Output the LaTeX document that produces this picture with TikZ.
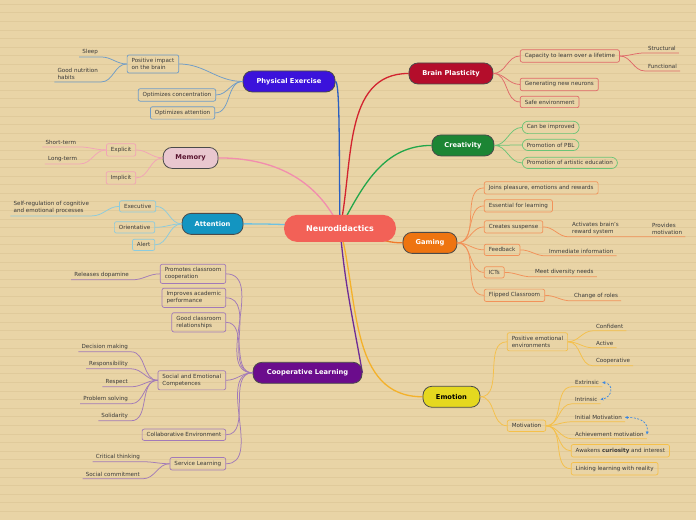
\documentclass[tikz,border=0pt]{standalone}
\usepackage{fontspec}
\setmainfont{DejaVu Sans}
\usetikzlibrary{arrows.meta}
\definecolor{paper}{HTML}{E9D4A6}
\definecolor{ruling}{HTML}{E0CA9B}
\definecolor{ink}{HTML}{3A3A3A}
\definecolor{edge}{HTML}{4A4A4A}
\definecolor{hubfill}{HTML}{F26157}
\definecolor{pefill}{HTML}{3B12DB}
\definecolor{bpfill}{HTML}{B40D2B}
\definecolor{crfill}{HTML}{1C8534}
\definecolor{gafill}{HTML}{EE7410}
\definecolor{emfill}{HTML}{E5D81F}
\definecolor{clfill}{HTML}{6B0C8C}
\definecolor{atfill}{HTML}{1395C1}
\definecolor{mmfill}{HTML}{E9C7CF}
\definecolor{memtext}{HTML}{5A1530}
\definecolor{pecol}{HTML}{6F9CC8}
\definecolor{bpcol}{HTML}{E06A6A}
\definecolor{crcol}{HTML}{6CC477}
\definecolor{gacol}{HTML}{F2925A}
\definecolor{emcol}{HTML}{F5C04A}
\definecolor{clcol}{HTML}{A27AB8}
\definecolor{atcol}{HTML}{8CCBDD}
\definecolor{mmcol}{HTML}{F2A3B8}
\definecolor{petrunk}{HTML}{2A5FC0}
\definecolor{bptrunk}{HTML}{D2232F}
\definecolor{crtrunk}{HTML}{22A64A}
\definecolor{gatrunk}{HTML}{F07A2A}
\definecolor{emtrunk}{HTML}{F4B12A}
\definecolor{cltrunk}{HTML}{6E2C96}
\definecolor{attrunk}{HTML}{6EC2E2}
\definecolor{mmtrunk}{HTML}{F28DAE}
\definecolor{relblue}{HTML}{3B87E0}
\pgfdeclarelayer{back}
\pgfsetlayers{back,main}
\tikzset{
  hub/.style={fill=hubfill, rounded corners=13pt, minimum width=112pt, minimum height=27pt, text=white, font=\bfseries\fontsize{8}{10}\selectfont},
  topic/.style={fill=#1, draw=edge, line width=0.8pt, rounded corners=9pt, minimum height=21pt, text=white, font=\bfseries\fontsize{6.7}{8}\selectfont},
  sub/.style={draw=#1, line width=0.7pt, rounded corners=2pt, inner xsep=4.5pt, inner ysep=3.5pt, align=left, text=ink, font=\fontsize{5.6}{6.8}\selectfont},
  leaf/.style={inner xsep=3pt, inner ysep=2pt, align=left, text=ink, font=\fontsize{5.6}{6.8}\selectfont},
  link/.style={draw=#1, line width=0.75pt},
  trunk/.style={draw=#1, line width=1.3pt},
  rel/.style={draw=relblue, line width=0.7pt, dash pattern=on 2pt off 1.5pt, {Stealth[length=3pt,width=3pt]}-{Stealth[length=3pt,width=3pt]}}
}
\begin{document}
\begin{tikzpicture}[>=Stealth, x=1pt, y=1pt]
\begin{pgfonlayer}{back}
\fill[paper] (0,0) rectangle (696,-520);
\foreach \k in {0,...,60} \draw[ruling, line width=0.4pt] (0,-4-8.6*\k) -- (696,-4-8.6*\k);
\end{pgfonlayer}
\useasboundingbox (0,0) rectangle (696,-520);

\node[hub] (nd) at (340,-228.5) {Neurodidactics};
\node[topic=pefill, minimum width=92pt] (pe) at (289,-81.5) {Physical Exercise};
\node[topic=bpfill, minimum width=84pt] (bp) at (451,-73.5) {Brain Plasticity};
\node[topic=crfill, minimum width=62pt] (cre) at (463,-145.5) {Creativity};
\node[topic=gafill, minimum width=54pt] (gam) at (430,-243) {Gaming};
\node[topic=emfill, minimum width=57pt, text=black] (emo) at (451.5,-397) {Emotion};
\node[topic=clfill, minimum width=109pt] (cl) at (307.5,-373) {Cooperative Learning};
\node[topic=atfill, minimum width=61pt] (att) at (212.5,-224) {Attention};
\node[topic=mmfill, minimum width=55pt, text=memtext] (mem) at (190.5,-158) {Memory};

\node[sub=pecol, anchor=east] (pe1) at (179,-64) {Positive impact\\on the brain};
\node[sub=pecol, anchor=east] (pe2) at (216,-95) {Optimizes concentration};
\node[sub=pecol, anchor=east] (pe3) at (215,-113) {Optimizes attention};
\node[leaf, anchor=south east] (sleep) at (101,-57) {Sleep};
\node[leaf, anchor=south east] (food) at (101,-82) {Good nutrition\\habits};

\node[sub=bpcol, anchor=west] (bp1) at (520,-56) {Capacity to learn over a lifetime};
\node[sub=bpcol, anchor=west] (bp2) at (520,-84.5) {Generating new neurons};
\node[sub=bpcol, anchor=west] (bp3) at (520,-102) {Safe environment};
\node[leaf, anchor=south west] (struct) at (645,-53) {Structural};
\node[leaf, anchor=south west] (funct) at (645,-71) {Functional};

\node[sub=crcol, rounded corners=6pt, anchor=west] (cr1) at (522,-127.5) {Can be improved};
\node[sub=crcol, rounded corners=6pt, anchor=west] (cr2) at (522,-145) {Promotion of PBL};
\node[sub=crcol, rounded corners=6pt, anchor=west] (cr3) at (522,-163) {Promotion of artistic education};

\node[sub=gacol, anchor=west] (g1) at (484,-188) {Joins pleasure, emotions and rewards};
\node[sub=gacol, anchor=west] (g2) at (484,-206) {Essential for learning};
\node[sub=gacol, anchor=west] (g3) at (484,-227) {Creates suspense};
\node[sub=gacol, anchor=west] (g4) at (484,-250) {Feedback};
\node[sub=gacol, anchor=west] (g5) at (484,-272.5) {ICTs};
\node[sub=gacol, anchor=west] (g6) at (484,-295.5) {Flipped Classroom};
\node[leaf, anchor=south west] (reward) at (569,-237) {Activates brain's\\reward system};
\node[leaf, anchor=south west] (drive) at (649,-237) {Provides\\motivation};
\node[leaf, anchor=south west] (instant) at (546,-256) {Immediate information};
\node[leaf, anchor=south west] (divers) at (532,-277) {Meet diversity needs};
\node[leaf, anchor=south west] (roles) at (571,-301) {Change of roles};

\node[sub=mmcol, anchor=east] (mem1) at (136,-150) {Explicit};
\node[sub=mmcol, anchor=east] (mem2) at (136,-178) {Implicit};
\node[leaf, anchor=south east] (short) at (79,-147) {Short-term};
\node[leaf, anchor=south east] (long) at (80,-164) {Long-term};

\node[sub=atcol, anchor=east] (at1) at (156,-206.5) {Executive};
\node[sub=atcol, anchor=east] (at2) at (155,-227.5) {Orientative};
\node[sub=atcol, anchor=east] (at3) at (155,-245) {Alert};
\node[leaf, anchor=south east] (selfreg) at (92,-216) {Self-regulation of cognitive\\and emotional processes};

\node[sub=clcol, anchor=east] (c1) at (226,-274) {Promotes classroom\\cooperation};
\node[sub=clcol, anchor=east] (c2) at (226,-298) {Improves academic\\performance};
\node[sub=clcol, anchor=east] (c3) at (226,-322.5) {Good classroom\\relationships};
\node[sub=clcol, anchor=east] (c4) at (226,-380.5) {Social and Emotional\\Competences};
\node[sub=clcol, anchor=east] (c5) at (226,-435) {Collaborative Environment};
\node[sub=clcol, anchor=east] (c6) at (226,-464) {Service Learning};
\node[leaf, anchor=south east] (dopa) at (132,-280) {Releases dopamine};
\node[leaf, anchor=south east] (decide) at (131,-352) {Decision making};
\node[leaf, anchor=south east] (resp) at (131,-369) {Responsibility};
\node[leaf, anchor=south east] (respect) at (131,-387) {Respect};
\node[leaf, anchor=south east] (solve) at (131,-404) {Problem solving};
\node[leaf, anchor=south east] (solid) at (131,-421) {Solidarity};
\node[leaf, anchor=south east] (crit) at (143,-462) {Critical thinking};
\node[leaf, anchor=south east] (commit) at (143,-479) {Social commitment};

\node[sub=emcol, anchor=west] (e1) at (507,-342) {Positive emotional\\environments};
\node[sub=emcol, anchor=west] (e2) at (507,-426) {Motivation};
\node[leaf, anchor=south west] (conf) at (593,-331) {Confident};
\node[leaf, anchor=south west] (active) at (593,-348) {Active};
\node[leaf, anchor=south west] (coop) at (593,-366) {Cooperative};
\node[leaf, anchor=south west] (extr) at (572,-387) {Extrinsic};
\node[leaf, anchor=south west] (intr) at (572,-404) {Intrinsic};
\node[leaf, anchor=south west] (init) at (572,-422) {Initial Motivation};
\node[leaf, anchor=south west] (achv) at (572,-439) {Achievement motivation};
\node[sub=emcol, anchor=west] (m5) at (571,-451) {Awakens \textbf{curiosity} and interest};
\node[sub=emcol, anchor=west] (m6) at (571,-469) {Linking learning with reality};

\begin{pgfonlayer}{back}
\draw[trunk=petrunk] (nd.center) .. controls (339,-150) and (340,-81.5) .. (pe.east);
\draw[trunk=bptrunk] (nd.center) to[out=78,in=180] (bp.west);
\draw[trunk=crtrunk] (nd.center) to[out=62,in=180] (cre.west);
\draw[trunk=gatrunk] (nd.center) to[out=-5,in=180] (gam.west);
\draw[trunk=emtrunk] (nd.center) to[out=-75,in=180] (emo.west);
\draw[trunk=cltrunk] (nd.center) to[out=-85,in=100] (cl.east);
\draw[trunk=attrunk] (nd.center) to[out=175,in=0] (att.east);
\draw[trunk=mmtrunk] (nd.center) to[out=115,in=0] (mem.east);
\end{pgfonlayer}

\foreach \n in {pe1,pe2,pe3} \draw[link=pecol] (pe.west) to[out=180,in=0] (\n.east);
\foreach \n in {sleep,food} \draw[link=pecol] (pe1.west) to[out=180,in=0] (\n.south east) -- (\n.south west);
\foreach \n in {bp1,bp2,bp3} \draw[link=bpcol] (bp.east) to[out=0,in=180] (\n.west);
\foreach \n in {struct,funct} \draw[link=bpcol] (bp1.east) to[out=0,in=180] (\n.south west) -- (\n.south east);
\foreach \n in {cr1,cr2,cr3} \draw[link=crcol] (cre.east) to[out=0,in=180] (\n.west);
\foreach \n in {g1,g2,g3,g4,g5,g6} \draw[link=gacol] (gam.east) to[out=0,in=180] (\n.west);
\draw[link=gacol] (g3.east) to[out=0,in=180] (reward.south west) -- (reward.south east) -- (drive.south west) -- (drive.south east);
\draw[link=gacol] (g4.east) to[out=0,in=180] (instant.south west) -- (instant.south east);
\draw[link=gacol] (g5.east) to[out=0,in=180] (divers.south west) -- (divers.south east);
\draw[link=gacol] (g6.east) to[out=0,in=180] (roles.south west) -- (roles.south east);
\foreach \n in {mem1,mem2} \draw[link=mmcol] (mem.west) to[out=180,in=0] (\n.east);
\foreach \n in {short,long} \draw[link=mmcol] (mem1.west) to[out=180,in=0] (\n.south east) -- (\n.south west);
\foreach \n in {at1,at2,at3} \draw[link=atcol] (att.west) to[out=180,in=0] (\n.east);
\draw[link=atcol] (at1.west) to[out=180,in=0] (selfreg.south east) -- (selfreg.south west);
\foreach \n in {c1,c2,c3,c4,c5,c6} \draw[link=clcol] (cl.west) to[out=180,in=0] (\n.east);
\draw[link=clcol] (c1.west) to[out=180,in=0] (dopa.south east) -- (dopa.south west);
\foreach \n in {decide,resp,respect,solve,solid} \draw[link=clcol] (c4.west) to[out=180,in=0] (\n.south east) -- (\n.south west);
\foreach \n in {crit,commit} \draw[link=clcol] (c6.west) to[out=180,in=0] (\n.south east) -- (\n.south west);
\foreach \n in {e1,e2} \draw[link=emcol] (emo.east) to[out=0,in=180] (\n.west);
\foreach \n in {conf,active,coop} \draw[link=emcol] (e1.east) to[out=0,in=180] (\n.south west) -- (\n.south east);
\foreach \n in {extr,intr,init,achv} \draw[link=emcol] (e2.east) to[out=0,in=180] (\n.south west) -- (\n.south east);
\foreach \n in {m5,m6} \draw[link=emcol] (e2.east) to[out=0,in=180] (\n.west);

\draw[rel] (extr.east) .. controls +(12,-1) and +(12,2) .. (intr.east);
\draw[rel] (init.east) .. controls +(16,0) and +(2,12) .. (achv.east);
\end{tikzpicture}
\end{document}
